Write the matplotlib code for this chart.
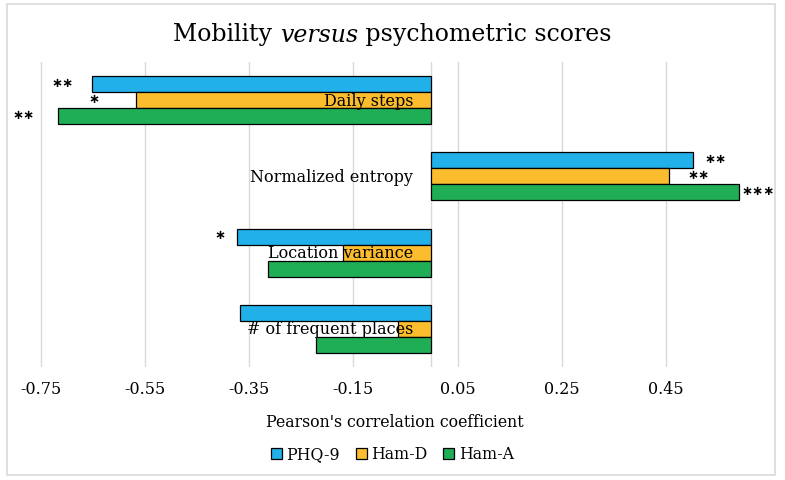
import matplotlib.pyplot as plt
from matplotlib.patches import Rectangle
from matplotlib.offsetbox import TextArea, HPacker, AnchoredOffsetbox
import numpy as np

categorias = ["Daily steps", "Normalized entropy", "Location variance", "# of frequent places"]
series = ["PHQ-9", "Ham-D", "Ham-A"]
phq9 = [-0.651, 0.502, -0.373, -0.367]
hamd = [-0.567, 0.457, -0.170, -0.065]
hama = [-0.718, 0.590, -0.313, -0.221]
estrellas = [["**", "*", "**"], ["**", "**", "***"], ["*", "", ""], ["", "", ""]]
ticks = [-0.75, -0.55, -0.35, -0.15, 0.05, 0.25, 0.45]

# separacion (px) entre la barra y las estrellas
huecos = [[19, 37, 23], [12, 18, 3], [12, 0, 0], [0, 0, 0]]

colores = ["#22b0ea", "#fbbd2e", "#1fae56"]
fuente = "DejaVu Serif"

fig = plt.figure(figsize=(7.85, 4.81), dpi=100)
fig.patches.append(Rectangle((7 / 785, 5 / 481), 768 / 785, 471 / 481, transform=fig.transFigure,
                             fill=False, edgecolor="#d9d9d9", linewidth=1.2))
ax = fig.add_axes([20 / 785, 1 - 368 / 481, 750 / 785, 305 / 481])

y = np.arange(len(categorias))
alto = 0.21
valores = [phq9, hamd, hama]
for i, (nombre, vals) in enumerate(zip(series, valores)):
    pos = y + (i - 1) * alto
    ax.barh(pos, vals, height=alto, color=colores[i], edgecolor="black", linewidth=0.9,
            label=nombre, zorder=2)
    for j, v in enumerate(vals):
        s = estrellas[j][i]
        if not s:
            continue
        s = "\u2217" * len(s)
        d = huecos[j][i] * 0.72
        if v < 0:
            ax.annotate(s, (v, pos[j]), xytext=(-d, 1.5), textcoords="offset points",
                        ha="right", va="center", fontsize=9.5, fontweight="bold",
                        family="DejaVu Sans", zorder=3)
        else:
            ax.annotate(s, (v, pos[j]), xytext=(d, 1.5), textcoords="offset points",
                        ha="left", va="center", fontsize=9.5, fontweight="bold",
                        family="DejaVu Sans", zorder=3)

for j, c in enumerate(categorias):
    ax.text(-0.035, y[j], c, ha="right", va="center", family=fuente, fontsize=11.5, zorder=4)

ax.set_ylim(len(categorias) - 0.5, -0.5)
ax.set_xlim(-0.79, 0.65)
ax.set_xticks(ticks)
ax.set_xticklabels([f"{t:.2f}" for t in ticks], family=fuente, fontsize=11.5)
ax.set_yticks([])
ax.tick_params(axis="x", length=0, pad=9)
ax.xaxis.grid(True, color="#d9d9d9", linewidth=1, zorder=0)
ax.axvline(0, color="#d9d9d9", linewidth=1, zorder=1)
for s in ax.spines.values():
    s.set_visible(False)

ax.set_xlabel("Pearson's correlation coefficient", family=fuente, fontsize=11.3, labelpad=12)

# titulo con "versus" en cursiva
partes = [TextArea("Mobility ", textprops=dict(family=fuente, fontsize=17)),
          TextArea("versus", textprops=dict(family=fuente, fontsize=17, style="italic")),
          TextArea(" psychometric scores", textprops=dict(family=fuente, fontsize=17))]
caja = HPacker(children=partes, align="baseline", pad=0, sep=0)
ab = AnchoredOffsetbox(loc="center", child=caja, frameon=False,
                       bbox_to_anchor=(0.5, 1 - 35 / 481), bbox_transform=fig.transFigure,
                       pad=0, borderpad=0)
fig.add_artist(ab)

fig.legend(loc="center", bbox_to_anchor=(0.5, 1 - 455 / 481), ncol=3, frameon=False,
           prop=dict(family=fuente, size=11.3), handlelength=0.7, handleheight=0.7,
           handletextpad=0.3, columnspacing=1.0)

fig.savefig("out.png", dpi=100)
